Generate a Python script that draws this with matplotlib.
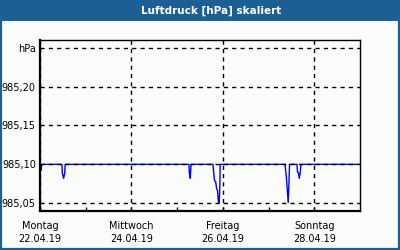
import matplotlib
matplotlib.use("Agg")
import matplotlib.pyplot as plt
from matplotlib.patches import Rectangle
from matplotlib.ticker import FixedLocator

# ---- data (hours since Montag 22.04.19 00:00) ----
hours = [0, 0.6, 0.9,
         11.5, 11.7, 12.4, 13.0, 13.2,
         78.2, 78.4, 78.9, 79.3,
         90.8, 91.6, 92.2, 92.7, 93.2, 93.7, 94.1, 94.4, 94.6,
         128.6, 129.3, 129.8, 130.3, 130.7, 131.0,
         134.9, 135.2, 135.7, 136.1, 136.6, 137.0,
         168]
pressure = [985.092, 985.092, 985.100,
            985.100, 985.089, 985.082, 985.089, 985.100,
            985.100, 985.089, 985.082, 985.100,
            985.100, 985.079, 985.078, 985.069, 985.066, 985.051, 985.051, 985.072, 985.100,
            985.100, 985.085, 985.068, 985.051, 985.075, 985.100,
            985.100, 985.090, 985.089, 985.082, 985.089, 985.100,
            985.100]

x_major = [0, 48, 96, 144]
x_minor = [24, 72, 120]
x_labels = ["Montag\n22.04.19", "Mittwoch\n24.04.19", "Freitag\n26.04.19", "Sonntag\n28.04.19"]
y_ticks = [985.05, 985.10, 985.15, 985.20, 985.25]
y_labels = ["985,05", "985,10", "985,15", "985,20", "hPa"]
title = "Luftdruck [hPa] skaliert"

bg = "#fafcfa"
blue_frame = "#1c5f95"

fig = plt.figure(figsize=(4, 2.5), dpi=100, facecolor=bg)

# title bar and border
fig.patches.append(Rectangle((0, 229 / 250), 1, 21 / 250, transform=fig.transFigure,
                             facecolor=blue_frame, edgecolor="none", zorder=0))
fig.patches.append(Rectangle((0.0025, 0.004), 0.995, 0.992, transform=fig.transFigure,
                             facecolor="none", edgecolor=blue_frame, lw=1.6, zorder=5))
fig.text(211 / 400, 239.5 / 250, title, color="white", fontsize=7.5, fontweight="bold",
         ha="center", va="center", family="DejaVu Sans")

ax = fig.add_axes([40 / 400, 39 / 250, 320 / 400, 171 / 250])
ax.set_facecolor(bg)
ax.plot(hours, pressure, color="#0000ff", lw=1.0, zorder=1)

ax.set_xlim(0, 168)
ax.set_ylim(985.04, 985.26)

ax.xaxis.set_major_locator(FixedLocator(x_major))
ax.xaxis.set_minor_locator(FixedLocator(x_minor))
ax.set_xticks(x_major)
ax.set_xticklabels(x_labels, fontsize=7, linespacing=1.45)
ax.set_yticks(y_ticks)
ax.set_yticklabels(y_labels, fontsize=7)

ax.tick_params(axis="x", which="major", direction="in", length=3, width=1, pad=7, colors="black")
ax.tick_params(axis="x", which="minor", direction="in", length=3, width=1)
ax.tick_params(axis="y", which="major", direction="in", length=0, pad=3)

ax.grid(True, which="major", color="black", linestyle=(0, (3, 3)), lw=1.0, zorder=2)
ax.set_axisbelow(False)

for s in ["left", "bottom"]:
    ax.spines[s].set_linewidth(1.6)
for s in ["top", "right"]:
    ax.spines[s].set_linewidth(1.0)

fig.savefig("out.png", dpi=100, facecolor=bg)
